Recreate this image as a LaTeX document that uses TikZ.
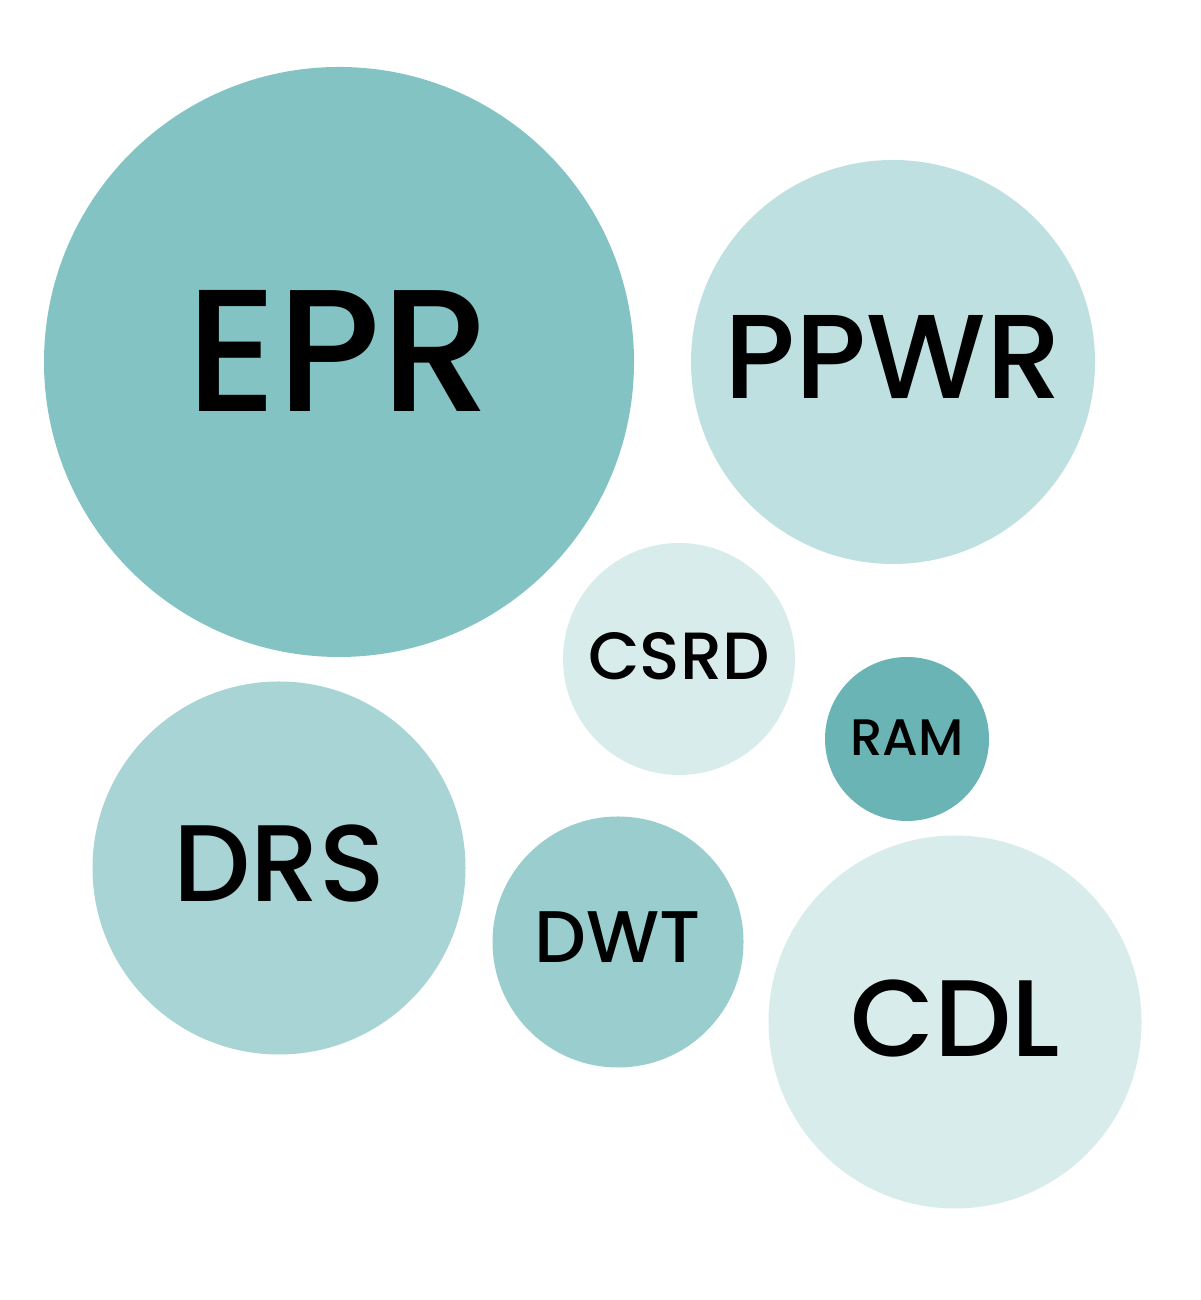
\documentclass[tikz,border=0pt]{standalone}
\usepackage{fontspec}
\setmainfont{Poppins}[UprightFont=* Medium]
\definecolor{tealA}{HTML}{84C3C3}
\definecolor{tealB}{HTML}{BFE0E0}
\definecolor{tealC}{HTML}{D9ECEC}
\definecolor{tealD}{HTML}{6AB4B5}
\definecolor{tealE}{HTML}{A8D4D5}
\definecolor{tealF}{HTML}{9ACECE}
\tikzset{
	bubble/.style={circle, inner sep=0pt, text=black}
}
\begin{document}
\begin{tikzpicture}
	\useasboundingbox (0, 0) rectangle (12, 13);
	\node[bubble, fill=tealA, minimum size=5.90cm, font=\fontsize{49.5}{49.5}\selectfont] (epr) at (3.39, 9.38) {\raisebox{2.2mm}{EPR}};
	\node[bubble, fill=tealB, minimum size=4.04cm, font=\fontsize{34}{34}\selectfont] (ppwr) at (8.93, 9.38) {\raisebox{1.1mm}{PPWR}};
	\node[bubble, fill=tealC, minimum size=2.32cm, font=\fontsize{19}{19}\selectfont] (csrd) at (6.79, 6.41) {\raisebox{0.5mm}{CSRD}};
	\node[bubble, fill=tealD, minimum size=1.64cm, font=\fontsize{14.6}{14.6}\selectfont] (ram) at (9.07, 5.61) {\raisebox{0.2mm}{RAM}};
	\node[bubble, fill=tealE, minimum size=3.73cm, font=\fontsize{31}{31}\selectfont] (drs) at (2.79, 4.32) {\raisebox{0.9mm}{DRS}};
	\node[bubble, fill=tealF, minimum size=2.51cm, font=\fontsize{20.8}{20.8}\selectfont] (dwt) at (6.18, 3.58) {\raisebox{0.9mm}{DWT}};
	\node[bubble, fill=tealC, minimum size=3.73cm, font=\fontsize{31}{31}\selectfont] (cdl) at (9.55, 2.78) {\raisebox{0.8mm}{CDL}};
\end{tikzpicture}
\end{document}
